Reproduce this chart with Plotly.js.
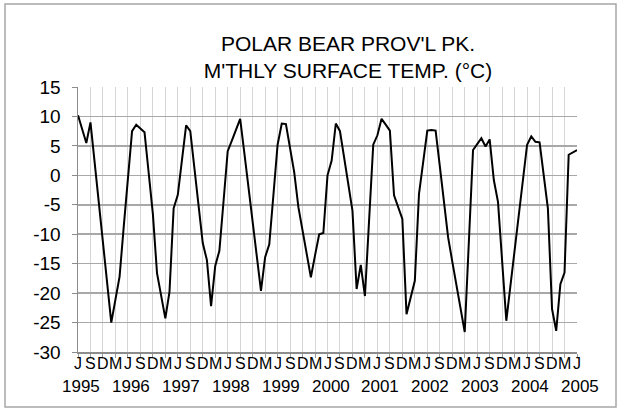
<!DOCTYPE html>
<html>
<head>
<meta charset="utf-8">
<script src="https://cdn.plot.ly/plotly-3.0.1.min.js"></script>
<style>
  html, body { margin: 0; padding: 0; background: #ffffff; }
  #chart { width: 621px; height: 412px; }
</style>
</head>
<body>
<div id="chart"></div>
<script>
// Monthly surface temperature, June 1995 .. June 2005 (one value per month)
const temps = [
  10.2, 7.8, 5.5, 9.0, 2.2, -4.7, -11.5, -18.2, -25.0, -21.1, -17.2, -8.7,
  -0.2, 7.5, 8.6, 8.0, 7.3, 0.4, -6.5, -16.6, -20.5, -24.3, -19.8, -5.6,
  -3.3, 2.6, 8.5, 7.5, 1.1, -5.2, -11.5, -14.4, -22.2, -15.4, -12.8, -4.4,
  4.1, 5.9, 7.7, 9.6, 3.8, -2.0, -7.8, -13.7, -19.6, -13.9, -11.7, -3.3,
  5.2, 8.8, 8.7, 4.6, 0.5, -5.4, -9.4, -13.4, -17.3, -13.6, -10.0, -9.8,
  0.0, 2.5, 8.8, 7.5, 3.0, -1.5, -6.0, -19.3, -15.2, -20.5, -7.7, 5.2,
  6.8, 9.6, 8.6, 7.6, -3.4, -5.4, -7.4, -23.6, -20.8, -17.9, -3.2, 2.2,
  7.6, 7.7, 7.6, 1.6, -4.5, -10.5, -14.6, -18.6, -22.7, -26.6, -11.2, 4.3,
  5.3, 6.3, 4.9, 6.1, -0.8, -4.5, -14.6, -24.7, -18.7, -12.7, -6.8, -0.8,
  5.2, 6.6, 5.7, 5.6, 0.0, -5.6, -22.7, -26.4, -18.5, -16.5, 3.5, 3.9,
  4.3
];
const monthLetters = ["J", "S", "D", "M"];           // label every 3rd month
const years = ["1995","1996","1997","1998","1999","2000","2001","2002","2003","2004","2005"];
const yTicks = [15, 10, 5, 0, -5, -10, -15, -20, -25, -30];
const titleText = "POLAR BEAR PROV'L PK.<br>M'THLY SURFACE TEMP. (°C)";

const xIdx = temps.map((_, i) => i);
const tickvals = [];
for (let i = 0; i < temps.length; i += 3) tickvals.push(i);
const letterText = tickvals.map(v => monthLetters[(v / 3) % 4]);
const yearX = years.map((_, k) => k * 12);

const font = "Liberation Sans";

const trace = {
  x: xIdx,
  y: temps,
  type: "scatter",
  mode: "lines",
  line: { color: "#000000", width: 2 },
  hoverinfo: "skip"
};

const L = 78, R = 577;
const pw = R - L;
const annotations = [];
tickvals.forEach((v, k) => annotations.push({
  x: v, xref: "x", y: 0, yref: "paper", yshift: -11,
  text: letterText[k], showarrow: false,
  xanchor: "center", yanchor: "middle",
  font: { family: font, size: 16, color: "#000000" }
}));
years.forEach((yr, k) => annotations.push({
  x: yearX[k], xref: "x", y: 0, yref: "paper", yshift: -34, xshift: 3,
  text: yr, showarrow: false,
  xanchor: "center", yanchor: "middle",
  font: { family: font, size: 17, color: "#000000" }
}));

const layout = {
  width: 621, height: 412,
  margin: { l: 78, r: 44, t: 87, b: 60 },
  paper_bgcolor: "#ffffff",
  plot_bgcolor: "#ffffff",
  showlegend: false,
  font: { family: font, color: "#000000", size: 18 },
  title: {
    text: titleText,
    font: { family: font, size: 21, color: "#000000" },
    x: 0.541, xref: "paper", xanchor: "center",
    y: 0.877, yref: "container", yanchor: "bottom"
  },
  xaxis: {
    range: [0, temps.length - 1],
    tickmode: "array",
    tickvals: tickvals,
    showticklabels: false,
    showgrid: true,
    gridcolor: "#d6d6d6",
    gridwidth: 1,
    zeroline: false,
    showline: true,
    linecolor: "#8c8c8c",
    linewidth: 1.5,
    ticks: "outside",
    ticklen: 4,
    tickcolor: "#9a9a9a",
    fixedrange: true
  },
  yaxis: {
    range: [-30, 15],
    tickmode: "array",
    tickvals: yTicks,
    ticktext: yTicks.map(String),
    tickfont: { family: font, size: 19, color: "#000000" },
    ticklabelstandoff: 7,
    showgrid: true,
    gridcolor: "#a8a8a8",
    gridwidth: 1.5,
    zeroline: false,
    showline: true,
    linecolor: "#8c8c8c",
    linewidth: 1.5,
    ticks: "outside",
    ticklen: 5,
    tickcolor: "#8c8c8c",
    fixedrange: true
  },
  annotations: annotations,
  shapes: [
    {
      type: "rect", xref: "paper", yref: "paper",
      x0: (5 - L) / pw, x1: (616 - L) / pw,
      y0: -(407 - 352) / 265, y1: 1 + (87 - 4) / 265,
      line: { color: "#a6a6a6", width: 1.5 },
      fillcolor: "rgba(0,0,0,0)",
      layer: "below"
    }
  ]
};

Plotly.newPlot("chart", [trace], layout, { displayModeBar: false, staticPlot: true });
</script>
</body>
</html>
